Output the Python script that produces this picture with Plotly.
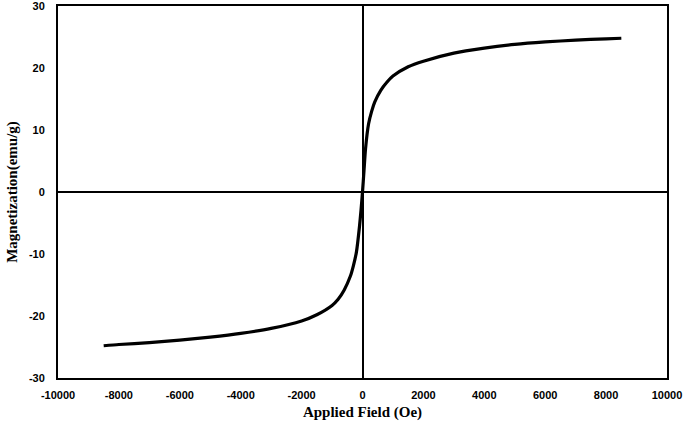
import plotly.graph_objects as go

# applied field (Oe) and magnetization (emu/g)
field = [-8500, -8000, -7000, -6000, -5000, -4000, -3000, -2000, -1500, -1000,
         -800, -600, -400, -300, -200, -100, -50, 0, 50, 100, 200, 300, 400,
         600, 800, 1000, 1500, 2000, 3000, 4000, 5000, 6000, 7000, 8000, 8500]
magnet = [-24.8, -24.6, -24.3, -23.9, -23.4, -22.8, -22.0, -20.8, -19.8, -18.3,
          -17.3, -15.8, -13.6, -11.9, -9.7, -5.6, -3.0, 0.0, 3.5, 7.0, 11.0, 13.0, 14.5,
          16.4, 17.7, 18.7, 20.2, 21.1, 22.4, 23.2, 23.8, 24.2, 24.5, 24.7, 24.8]

x_ticks = [-10000, -8000, -6000, -4000, -2000, 0, 2000, 4000, 6000, 8000, 10000]
y_ticks = [-30, -20, -10, 0, 10, 20, 30]

fig = go.Figure()
fig.add_trace(go.Scatter(x=field, y=magnet, mode="lines",
                         line=dict(color="black", width=3.2, shape="spline", smoothing=0.6),
                         showlegend=False))

tick_font = dict(family="Liberation Sans", size=11, color="black")
title_font = dict(family="Liberation Serif", size=15, color="black")

fig.update_layout(
    width=685, height=427,
    margin=dict(l=58, r=18, t=6, b=49),
    paper_bgcolor="white", plot_bgcolor="white",
    font=tick_font,
    xaxis=dict(range=[-10000, 10000], tickvals=x_ticks,
               ticktext=["<b>%d</b>" % v for v in x_ticks],
               showgrid=False, zeroline=True, zerolinecolor="black", zerolinewidth=2,
               showline=True, linecolor="black", linewidth=2, mirror=True,
               ticks="outside", ticklen=6, tickcolor="rgba(0,0,0,0)",
               automargin=False, ticklabeloverflow="allow",
               title=dict(text="<b>Applied Field (Oe)</b>", font=title_font, standoff=6)),
    yaxis=dict(range=[-30, 30], tickvals=y_ticks,
               ticktext=["<b>%d</b>" % v for v in y_ticks],
               showgrid=False, zeroline=True, zerolinecolor="black", zerolinewidth=2,
               showline=True, linecolor="black", linewidth=2, mirror=True,
               ticks="outside", ticklen=9, tickcolor="rgba(0,0,0,0)",
               automargin=False, ticklabeloverflow="allow",
               title=dict(text="<b>Magnetization(emu/g)</b>", font=title_font, standoff=8)),
)

# drop the browser's default body margin so the figure sits at the page corner
fig.write_html("out.html", config={"displayModeBar": False},
               post_script="document.body.style.margin='0px';")
